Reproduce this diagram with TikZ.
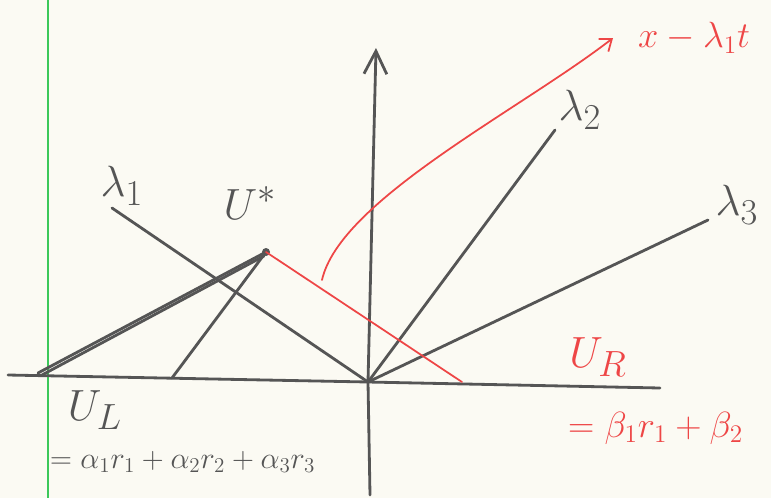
\documentclass[tikz,border=0pt]{standalone}
\usepackage{amsmath}
\usetikzlibrary{arrows.meta, positioning, calc}
\definecolor{pencil}{HTML}{555555}
\definecolor{redpen}{HTML}{EE4646}
\definecolor{paper}{HTML}{FBFAF3}
\definecolor{margin}{HTML}{3CC85A}
\tikzset{
    wave/.style={pencil, line width=1.6pt, line cap=round},
    shock/.style={redpen, line width=1pt, line cap=round},
    lbl/.style={pencil, font=\Huge},
    redlbl/.style={redpen, font=\Huge},
    eqn/.style={font=\LARGE}
}

\begin{document}
\begin{tikzpicture}[x=0.02cm, y=-0.02cm]
        \fill[paper] (0,0) rectangle (771,498);
        \useasboundingbox (0,0) rectangle (771,498);
        \draw[margin, thick] (48,0) -- (48,498);

        % axes
        \coordinate (O) at (368,382);
        \coordinate (xl) at (8,375);
        \coordinate (xr) at (660,388);
        \coordinate (yb) at (370,495);
        \coordinate (yt) at (376,48);
        \draw[wave] (xl) -- (O) -- (xr);
        \draw[wave, -{Straight Barb[length=13pt, width=13pt]}] (yb) -- (O) -- (yt);

        % waves
        \coordinate (ustar) at (266,252);
        \coordinate (ustar2) at (264,256);
        \coordinate (l1) at (112,208);
        \coordinate (l2) at (555,130);
        \coordinate (l3) at (708,220);
        \coordinate (a) at (38,373);
        \coordinate (a2) at (42,375);
        \coordinate (b) at (172,378);
        \coordinate (c) at (462,382);
        \draw[wave] (l1) -- (O);
        \draw[wave] (O) -- (l2);
        \draw[wave] (O) -- (l3);
        \draw[wave] (a) -- (ustar);
        \draw[wave] (a2) -- (ustar2);
        \draw[wave] (b) -- (ustar);
        \fill[pencil] (ustar) circle (4);
        \draw[shock] (ustar) -- (c);

        % characteristic
        \coordinate (cs) at (322,280);
        \coordinate (ce) at (613,38);
        \draw[shock, -{Straight Barb[length=6pt, width=9pt]}] (cs) .. controls (340,200) and (520,110) .. (ce);

        % labels
        \node[lbl] (lam1) at (122,186) {$\lambda_1$};
        \node[lbl] (lam2) at (580,110) {$\lambda_2$};
        \node[lbl] (lam3) at (737,205) {$\lambda_3$};
        \node[lbl] (us) at (250,203) {$U^*$};
        \node[lbl] (ul) at (95,410) {$U_L$};
        \node[eqn, pencil, anchor=west] (alp) at (44,462) {$=\alpha_1 r_1+\alpha_2 r_2+\alpha_3 r_3$};
        \node[eqn, redpen, anchor=west, font=\huge] (bet) at (562,428) {$=\beta_1 r_1+\beta_2$};
        \node[redlbl] (ur) at (598,357) {$U_R$};
        \node[redlbl, anchor=west, font=\huge] (xt) at (632,38) {$x-\lambda_1 t$};
    \end{tikzpicture}
\end{document}
